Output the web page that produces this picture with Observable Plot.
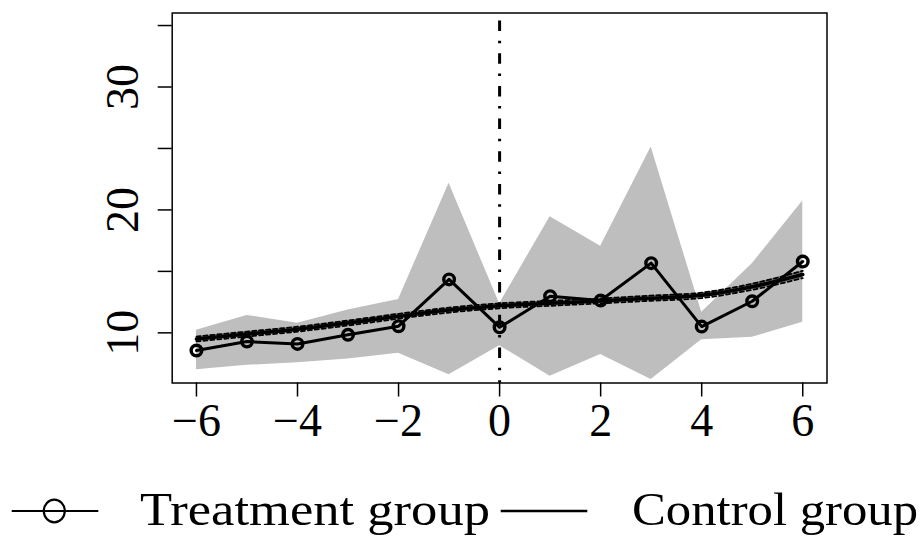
<!DOCTYPE html>
<html>
<head>
<meta charset="utf-8">
<script src="https://cdn.jsdelivr.net/npm/d3@7"></script>
<script src="https://cdn.jsdelivr.net/npm/@observablehq/plot@0.6"></script>
<style>
  html, body { margin: 0; padding: 0; background: #fff; }
  #wrap { width: 921px; height: 538px; position: relative; overflow: hidden; }
  #legend { display: block; }
</style>
</head>
<body>
<div id="wrap"></div>
<script>
// ---- data ----
const periods = [-6, -5, -4, -3, -2, -1, 0, 1, 2, 3, 4, 5, 6];
const treatment = [8.56, 9.29, 9.10, 9.84, 10.54, 14.35, 10.45, 12.98, 12.63, 15.67, 10.51, 12.57, 15.80];
const treatLower = [7.00, 7.36, 7.56, 7.88, 8.34, 6.60, 8.95, 6.47, 8.23, 6.20, 9.43, 9.64, 10.86];
const treatUpper = [10.22, 11.42, 10.78, 11.85, 12.71, 22.18, 12.36, 19.45, 17.05, 25.11, 11.68, 15.62, 20.72];
const control = [9.50, 9.90, 10.30, 10.80, 11.35, 11.85, 12.20, 12.40, 12.60, 12.82, 13.05, 13.75, 14.75];
const controlLower = [9.30, 9.70, 10.10, 10.60, 11.15, 11.65, 12.00, 12.20, 12.40, 12.61, 12.83, 13.50, 14.45];
const controlUpper = [9.70, 10.10, 10.50, 11.00, 11.55, 12.05, 12.40, 12.60, 12.80, 13.03, 13.27, 14.00, 15.05];
const xTicks = [-6, -4, -2, 0, 2, 4, 6];
const yTicks = [10, 15, 20, 25, 30, 35];
const yLabels = [10, 20, 30];
const eventTime = [0];
const legendLabels = ["Treatment group", "Control group"];

const rows = periods.map((p, i) => ({
  p, t: treatment[i], tl: treatLower[i], tu: treatUpper[i],
  c: control[i], cl: controlLower[i], cu: controlUpper[i]
}));

const font = "'Liberation Serif', 'DejaVu Serif', serif";

const chart = Plot.plot({
  width: 921,
  height: 460,
  marginTop: 12.5,
  marginBottom: 77.5,
  marginLeft: 171.7,
  marginRight: 94.5,
  style: {fontFamily: font, fontSize: "46px", background: "white", color: "black"},
  x: {domain: [-6.48, 6.48]},
  y: {domain: [5.92, 36.02]},
  marks: [
    Plot.areaY(rows, {x: "p", y1: "tl", y2: "tu", fill: "#BEBEBE"}),
    Plot.areaY(rows, {x: "p", y1: "cl", y2: "cu", fill: "#707070", curve: "monotone-x"}),
    Plot.line(rows, {x: "p", y: "cl", stroke: "black", strokeWidth: 1.8, strokeDasharray: "4,3", curve: "monotone-x"}),
    Plot.line(rows, {x: "p", y: "cu", stroke: "black", strokeWidth: 1.8, strokeDasharray: "4,3", curve: "monotone-x"}),
    Plot.line(rows, {x: "p", y: "c", stroke: "black", strokeWidth: 3.5, curve: "monotone-x"}),
    Plot.ruleX(eventTime, {stroke: "black", strokeWidth: 3, strokeDasharray: "2.5,10,10.5,9.7", strokeDashoffset: 4.5}),
    Plot.line(rows, {x: "p", y: "t", stroke: "black", strokeWidth: 3}),
    Plot.dot(rows, {x: "p", y: "t", r: 5.3, stroke: "black", strokeWidth: 3.4, fill: "none"}),
    Plot.axisX({ticks: xTicks, tickSize: 14, tickPadding: 6, strokeWidth: 1.5, label: null, fontSize: 46}),
    Plot.axisY({ticks: yTicks, tickSize: 14, strokeWidth: 1.5, tickFormat: () => "", label: null}),
    Plot.text(yLabels, {y: d => d, text: d => String(d), frameAnchor: "left", dx: -34, rotate: -90, lineAnchor: "bottom", textAnchor: "middle", fontSize: 46}),
    Plot.frame({stroke: "black", strokeWidth: 1.5})
  ]
});

const wrap = document.getElementById("wrap");
wrap.appendChild(chart);

// ---- legend below the plot ----
const NS = "http://www.w3.org/2000/svg";
const leg = document.createElementNS(NS, "svg");
leg.setAttribute("id", "legend");
leg.setAttribute("width", 921);
leg.setAttribute("height", 78);
leg.setAttribute("font-family", "Liberation Serif, DejaVu Serif, serif");
function el(tag, attrs, parent) {
  const e = document.createElementNS(NS, tag);
  for (const k in attrs) e.setAttribute(k, attrs[k]);
  (parent || leg).appendChild(e);
  return e;
}
el("line", {x1: 11.7, x2: 98.3, y1: 51, y2: 51, stroke: "black", "stroke-width": 2.2});
el("ellipse", {cx: 54.3, cy: 51, rx: 10.5, ry: 11.3, fill: "none", stroke: "black", "stroke-width": 2.2});
const t1 = el("text", {x: 140, y: 65, "font-size": 46, textLength: 350, lengthAdjust: "spacingAndGlyphs"});
t1.textContent = legendLabels[0];
el("line", {x1: 500.7, x2: 587.3, y1: 51, y2: 51, stroke: "black", "stroke-width": 2.7});
const t2 = el("text", {x: 632, y: 65, "font-size": 46, textLength: 286, lengthAdjust: "spacingAndGlyphs"});
t2.textContent = legendLabels[1];
wrap.appendChild(leg);
</script>
</body>
</html>
